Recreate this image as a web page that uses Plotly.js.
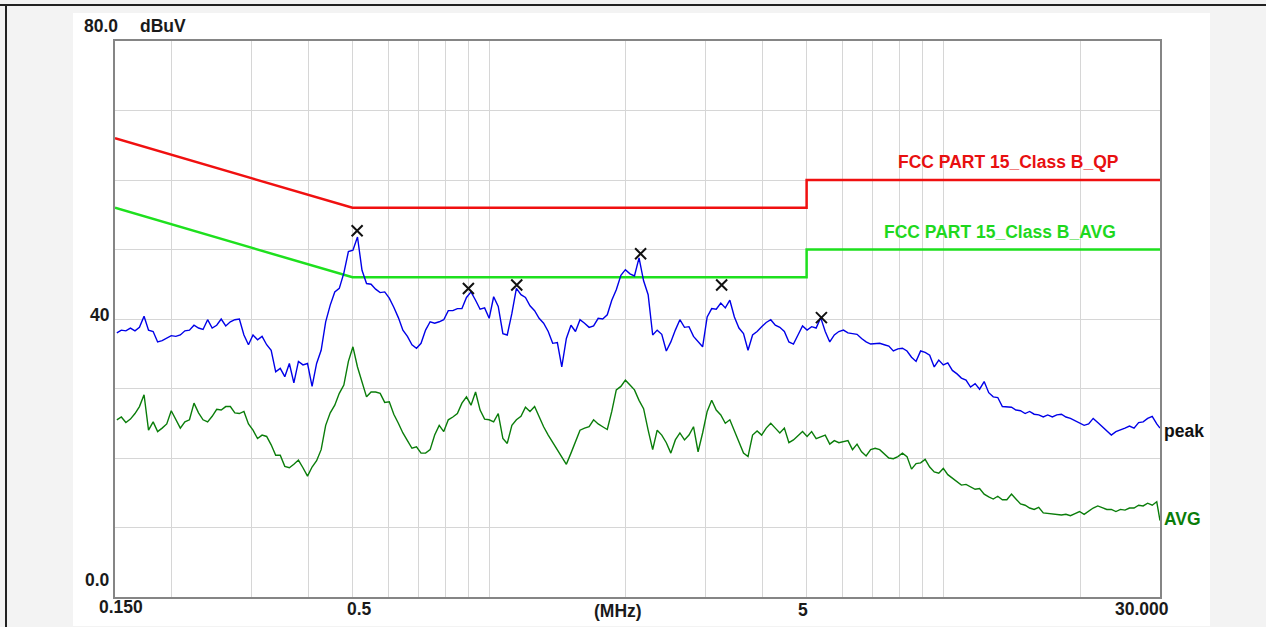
<!DOCTYPE html>
<html>
<head>
<meta charset="utf-8">
<script src="https://cdn.plot.ly/plotly-3.0.1.min.js"></script>
<style>html,body{margin:0;padding:0;background:#f3f3f3;}#chart{width:1266px;height:627px;}</style>
</head>
<body>
<div id="chart"></div>
<script>
// Frequency sweep (MHz)
const freq = [
0.1514,0.1549,0.1585,0.1622,0.1660,0.1698,0.1738,0.1778,0.1820,0.1862,
0.1905,0.1950,0.1995,0.2042,0.2089,0.2138,0.2188,0.2239,0.2291,0.2344,
0.2399,0.2455,0.2512,0.2570,0.2630,0.2692,0.2754,0.2818,0.2884,0.2951,
0.3020,0.3090,0.3162,0.3236,0.3311,0.3388,0.3467,0.3548,0.3631,0.3715,
0.3802,0.3890,0.3981,0.4074,0.4169,0.4266,0.4365,0.4467,0.4571,0.4677,
0.4786,0.4898,0.5012,0.5129,0.5248,0.5370,0.5495,0.5623,0.5754,0.5888,
0.6026,0.6166,0.6310,0.6457,0.6607,0.6761,0.6918,0.7079,0.7244,0.7413,
0.7586,0.7762,0.7943,0.8128,0.8318,0.8511,0.8710,0.8913,0.9120,0.9333,
0.9550,0.9772,1.000,1.023,1.047,1.072,1.096,1.122,1.148,1.175,
1.202,1.230,1.259,1.288,1.318,1.349,1.380,1.413,1.445,1.479,
1.514,1.549,1.585,1.622,1.660,1.698,1.738,1.778,1.820,1.862,
1.905,1.950,1.995,2.042,2.089,2.138,2.188,2.239,2.291,2.344,
2.399,2.455,2.512,2.570,2.630,2.692,2.754,2.818,2.884,2.951,
3.020,3.090,3.162,3.236,3.311,3.388,3.467,3.548,3.631,3.715,
3.802,3.890,3.981,4.074,4.169,4.266,4.365,4.467,4.571,4.677,
4.786,4.898,5.012,5.129,5.248,5.370,5.495,5.623,5.754,5.888,
6.026,6.166,6.310,6.457,6.607,6.761,6.918,7.079,7.244,7.413,
7.586,7.762,7.943,8.128,8.318,8.511,8.710,8.913,9.120,9.333,
9.550,9.772,10.00,10.23,10.47,10.72,10.96,11.22,11.48,11.75,
12.02,12.30,12.59,12.88,13.18,13.49,13.80,14.13,14.45,14.79,
15.14,15.49,15.85,16.22,16.60,16.98,17.38,17.78,18.20,18.62,
19.05,19.50,19.95,20.42,20.89,21.38,21.88,22.39,22.91,23.44,
23.99,24.55,25.12,25.70,26.30,26.92,27.54,28.18,28.84,29.51,
30.00
];
// Peak detector trace (dBuV)
const peakLevel = [
38.0,38.4,38.3,38.7,38.3,38.8,40.4,38.4,38.2,36.7,
36.9,37.2,37.6,37.5,37.7,38.3,38.4,39.1,38.7,38.5,
39.9,38.7,39.1,40.0,39.0,39.6,39.9,40.0,37.7,36.3,
37.7,37.0,37.5,36.3,35.5,32.4,32.9,31.7,33.6,30.8,
33.9,33.4,33.6,30.3,33.6,35.5,39.6,42.0,43.9,44.4,
46.6,49.7,49.9,51.8,47.0,45.1,45.0,44.3,43.8,43.9,
43.0,41.7,40.2,38.4,37.5,36.3,35.8,36.5,38.4,39.6,
39.4,39.6,39.9,41.2,41.2,41.5,41.5,43.1,43.9,42.7,
41.4,41.6,40.1,43.2,41.8,37.9,37.7,40.8,44.4,43.5,
43.1,41.9,41.2,40.1,39.4,38.2,36.5,36.6,33.1,37.2,
39.1,38.2,39.9,39.4,38.8,39.0,40.1,40.0,40.6,42.7,
44.2,46.3,47.1,46.5,46.2,48.8,45.5,43.5,37.7,38.4,
37.8,35.4,36.7,38.4,39.9,38.8,38.9,37.5,36.7,36.0,
40.3,41.5,41.4,42.3,41.6,42.7,40.3,38.7,37.9,35.5,
37.7,38.2,38.9,39.5,39.9,39.1,38.8,38.2,36.7,36.4,
37.7,39.0,38.4,38.9,38.7,40.2,38.2,36.7,37.7,38.2,
38.4,38.0,37.9,37.8,37.2,36.7,36.4,36.4,36.5,36.3,
36.1,35.4,35.7,35.8,35.4,34.5,33.9,35.4,35.2,34.8,
33.1,34.1,33.4,33.7,32.6,32.1,31.5,31.2,30.2,30.7,
29.9,31.0,29.4,28.8,28.7,27.4,27.4,27.3,26.9,26.8,
26.4,26.7,26.3,26.2,25.9,26.2,25.9,26.2,26.3,25.9,
25.7,25.4,25.0,24.7,24.9,25.7,25.1,24.5,23.8,23.3,
23.8,24.0,24.3,24.6,24.3,25.1,25.2,25.7,26.0,24.9,
24.3
];
// Average detector trace (dBuV)
const avgLevel = [
25.5,25.9,25.1,25.6,26.4,27.4,29.1,24.0,25.2,23.8,
24.3,24.9,26.8,25.5,24.3,25.2,25.5,27.9,26.5,25.5,
25.2,26.0,27.0,26.9,27.4,27.4,26.5,26.4,26.7,24.9,
24.0,22.8,23.3,23.1,21.9,20.4,20.4,18.8,18.6,19.1,
19.7,18.6,17.4,18.7,19.6,21.2,24.7,26.5,27.6,29.3,
30.5,33.9,36.0,33.1,31.0,28.8,29.5,29.5,29.3,28.0,
28.1,26.3,25.0,23.6,22.5,21.4,21.6,20.7,20.7,21.2,
23.3,24.7,23.8,25.5,25.9,26.4,27.9,28.8,27.6,29.5,
26.9,25.6,25.5,25.2,26.4,22.8,22.1,24.7,25.5,26.0,
27.3,26.7,27.4,25.9,24.5,23.3,22.3,21.2,20.1,19.1,
20.7,22.3,24.0,24.3,24.5,25.5,24.9,24.5,24.1,26.7,
29.8,30.3,31.2,30.5,29.8,28.3,27.1,24.0,21.2,24.0,
23.3,22.2,20.7,22.6,23.6,22.6,23.3,24.5,20.9,23.6,
26.7,28.3,26.9,26.2,25.0,25.5,23.9,22.1,20.7,20.2,
23.3,23.9,23.3,24.3,25.0,24.3,23.6,24.3,22.2,22.6,
23.2,23.8,23.1,23.8,22.8,23.1,23.3,22.0,22.5,22.2,
22.4,22.5,21.2,22.0,20.9,20.3,21.2,21.4,21.2,20.6,
20.0,19.9,20.2,20.7,20.2,18.4,19.2,19.3,19.8,18.7,
18.0,17.8,18.5,17.6,17.1,16.6,16.1,16.2,15.9,15.5,
15.6,14.8,14.4,14.1,14.5,14.0,14.0,14.8,14.1,13.4,
13.2,12.8,12.6,12.9,12.1,12.0,11.9,11.8,11.8,11.9,
11.7,12.0,12.3,11.9,12.4,12.8,13.1,12.8,12.6,12.6,
12.3,12.6,12.5,12.8,12.8,13.2,13.1,13.5,13.2,13.7,
11.0
];
// Limit lines
const limitFreq = [0.15, 0.5, 5, 5, 30];
const qpLimit = [66, 56, 56, 60, 60];
const avgLimit = [56, 46, 46, 50, 50];
// Marked peaks
const markFreq = [0.512, 0.900, 1.150, 2.155, 3.250, 5.390];
const markLevel = [52.7, 44.4, 44.9, 49.4, 44.9, 40.2];
// Grid and tick labels
const gridFreq = [0.2,0.3,0.4,0.5,0.6,0.7,0.8,0.9,1,2,3,4,5,6,7,8,9,10,20];
const xTickLabels = ["0.150","0.5","(MHz)","5","30.000"];
const yTickLabels = ["80.0","40","0.0"];

// layout helpers (pixel -> paper)
const L = 115, R = 1160, T = 41, B = 597;
const PX = x => (x - L) / (R - L);
const PY = y => (B - y) / (B - T);
const FONT = 'Liberation Sans, Arial, sans-serif';
function ann(text, x, y, color, xanchor) {
  return {text: '<b>' + text + '</b>', xref: 'paper', yref: 'paper', x: PX(x), y: PY(y),
    xanchor: xanchor || 'center', yanchor: 'middle', showarrow: false,
    font: {family: FONT, size: 17.5, color: color || '#1a1a1a'}};
}

const traces = [
  {x: limitFreq, y: qpLimit, mode: 'lines', line: {color: '#f01010', width: 2.5}},
  {x: limitFreq, y: avgLimit, mode: 'lines', line: {color: '#1ee01e', width: 2.5}},
  {x: freq, y: peakLevel, mode: 'lines', line: {color: '#0000e8', width: 1.4}},
  {x: freq, y: avgLevel, mode: 'lines', line: {color: '#0a7d0a', width: 1.4}},
  {x: markFreq, y: markLevel, mode: 'markers',
   marker: {symbol: 'x-thin-open', size: 11, color: '#111', line: {color: '#111', width: 2}}}
];

const annotations = [
  ann(yTickLabels[0], 101, 26),
  ann('dBuV', 163, 26),
  ann(yTickLabels[1], 100, 315),
  ann(yTickLabels[2], 97, 580),
  ann(xTickLabels[0], 121, 607),
  ann(xTickLabels[1], 359, 609),
  ann(xTickLabels[2], 618, 611),
  ann(xTickLabels[3], 803, 610),
  ann(xTickLabels[4], 1142, 609),
  ann('FCC PART 15_Class B_QP', 1008, 162, '#e81010'),
  ann('FCC PART 15_Class B_AVG', 1000, 232, '#1ed81e'),
  ann('peak', 1162, 431, '#111', 'left'),
  ann('AVG', 1162, 519, '#0a7d0a', 'left')
];

const shapes = [
  {type: 'rect', xref: 'paper', yref: 'paper', x0: PX(73), x1: PX(1210), y0: PY(626), y1: PY(13),
   fillcolor: '#ffffff', line: {width: 0}, layer: 'below'},
  {type: 'line', xref: 'paper', yref: 'paper', x0: PX(0), x1: PX(1266), y0: PY(5), y1: PY(5),
   line: {color: '#222', width: 2}},
  {type: 'line', xref: 'paper', yref: 'paper', x0: PX(6), x1: PX(6), y0: PY(5), y1: PY(627),
   line: {color: '#222', width: 2}}
];

const layout = {
  width: 1266, height: 627,
  margin: {l: L, r: 1266 - R, t: T, b: 627 - B, pad: 0},
  paper_bgcolor: '#f3f3f3', plot_bgcolor: '#ffffff',
  showlegend: false, hovermode: false,
  xaxis: {type: 'log', range: [Math.log10(0.15), Math.log10(30)], tickvals: gridFreq,
    showticklabels: false, ticks: '', showgrid: true, gridcolor: '#d6d6d6', gridwidth: 1,
    zeroline: false, showline: true, mirror: true, linecolor: '#858585', linewidth: 2, fixedrange: true},
  yaxis: {range: [0, 80], dtick: 10, showticklabels: false, ticks: '', showgrid: true,
    gridcolor: '#d6d6d6', gridwidth: 1, zeroline: false, showline: true, mirror: true,
    linecolor: '#858585', linewidth: 2, fixedrange: true},
  annotations: annotations,
  shapes: shapes
};

Plotly.newPlot('chart', traces, layout, {staticPlot: true, displayModeBar: false});
</script>
</body>
</html>
